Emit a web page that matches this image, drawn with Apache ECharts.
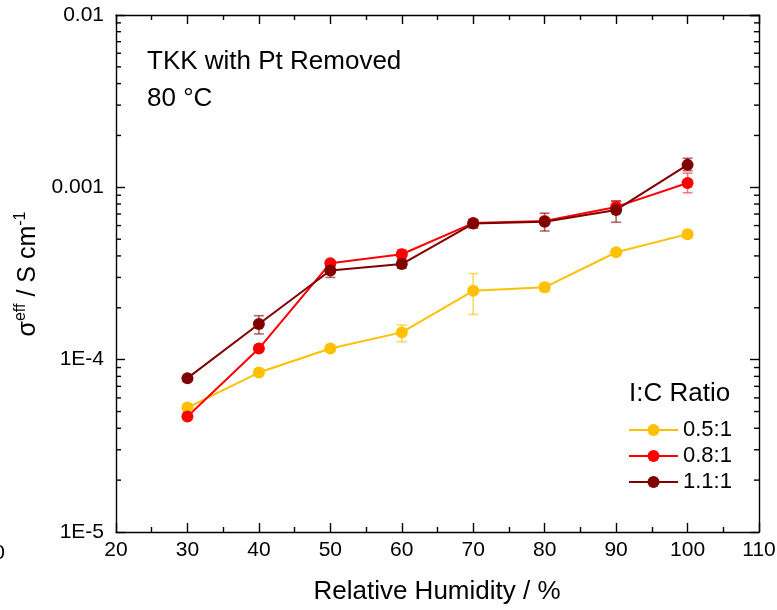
<!DOCTYPE html>
<html><head><meta charset="utf-8">
<script src="https://cdn.jsdelivr.net/npm/echarts@6/dist/echarts.min.js"></script>
<style>html,body{margin:0;padding:0;background:#fff}#c{width:777px;height:610px}</style>
</head><body><div id="c"></div>
<script>
// ---- data ----
const humidity = [30, 40, 50, 60, 70, 80, 90, 100];
const seriesNames = ['0.5:1', '0.8:1', '1.1:1'];
const ratio05 = [5.27e-5, 8.42e-5, 1.16e-4, 1.44e-4, 2.51e-4, 2.63e-4, 4.20e-4, 5.35e-4];
const ratio08 = [4.68e-5, 1.16e-4, 3.63e-4, 4.09e-4, 6.20e-4, 6.38e-4, 7.70e-4, 1.06e-3];
const ratio11 = [7.81e-5, 1.61e-4, 3.29e-4, 3.59e-4, 6.16e-4, 6.32e-4, 7.39e-4, 1.35e-3];
const err05Low  = [null, null, null, 1.27e-4, 1.83e-4, 2.48e-4, 4.05e-4, 5.10e-4];
const err05High = [null, null, null, 1.59e-4, 3.16e-4, 2.78e-4, 4.35e-4, 5.60e-4];
const err08Low  = [null, null, null, 3.85e-4, null, null, 7.10e-4, 9.30e-4];
const err08High = [null, null, null, 4.35e-4, null, null, 8.30e-4, 1.21e-3];
const err11Low  = [null, 1.41e-4, 3.00e-4, 3.40e-4, 5.80e-4, 5.58e-4, 6.27e-4, 1.25e-3];
const err11High = [null, 1.80e-4, 3.50e-4, 3.80e-4, 6.50e-4, 7.08e-4, 8.34e-4, 1.475e-3];
const xTicks = [20, 30, 40, 50, 60, 70, 80, 90, 100, 110];
const yTickValues = [1e-5, 1e-4, 1e-3, 1e-2];
const yTickLabels = ['1E-5', '1E-4', '0.001', '0.01'];
const yMinorValues = [2e-5,3e-5,4e-5,5e-5,6e-5,7e-5,8e-5,9e-5,2e-4,3e-4,4e-4,5e-4,6e-4,7e-4,8e-4,9e-4,2e-3,3e-3,4e-3,5e-3,6e-3,7e-3,8e-3,9e-3];

const colors = ['#FFC000', '#FF0000', '#800000'];
const errColors = ['rgba(255,192,0,0.6)', 'rgba(255,0,0,0.5)', 'rgba(128,0,0,0.6)'];
const FONT = 'Liberation Sans, Arial, sans-serif';

function errData(lo, hi) {
  return humidity.map((h, i) => [h, lo[i], hi[i]]).filter(d => d[1] != null);
}
function errSeries(lo, hi, color) {
  return {
    type: 'custom', z: 1, silent: true,
    encode: { x: 0, y: [1, 2] },
    data: errData(lo, hi),
    renderItem: function (params, api) {
      const x = api.value(0);
      const pl = api.coord([x, api.value(1)]);
      const ph = api.coord([x, api.value(2)]);
      const w = 5;
      const style = { stroke: color, lineWidth: 1.6 };
      return { type: 'group', children: [
        { type: 'line', shape: { x1: pl[0], y1: pl[1], x2: ph[0], y2: ph[1] }, style: style },
        { type: 'line', shape: { x1: pl[0] - w, y1: pl[1], x2: pl[0] + w, y2: pl[1] }, style: style },
        { type: 'line', shape: { x1: ph[0] - w, y1: ph[1], x2: ph[0] + w, y2: ph[1] }, style: style }
      ]};
    }
  };
}
function lineSeries(name, vals, color) {
  return {
    name: name, type: 'line', z: 3,
    data: humidity.map((h, i) => [h, vals[i]]),
    symbol: 'circle', symbolSize: 12,
    lineStyle: { color: color, width: 2 },
    itemStyle: { color: color },
    emphasis: { disabled: true }
  };
}

const axisLine = { show: true, lineStyle: { color: '#000', width: 1.4 } };
const chart = echarts.init(document.getElementById('c'));
chart.setOption({
  animation: false,
  backgroundColor: '#fff',
  grid: { left: 116, right: 18, top: 15, bottom: 78, containLabel: false, outerBoundsMode: 'none' },
  xAxis: [{
    type: 'value', min: 20, max: 110, interval: 10, position: 'bottom',
    axisLine: axisLine,
    axisTick: { show: true, inside: true, length: 9, lineStyle: { color: '#000', width: 1.4 } },
    minorTick: { show: true, splitNumber: 2, length: 5, lineStyle: { color: '#000', width: 1.4 } },
    axisLabel: { color: '#000', fontSize: 21, fontFamily: FONT, margin: 8, showMinLabel: true, showMaxLabel: true,
      formatter: v => String(xTicks[xTicks.indexOf(v)]) },
    splitLine: { show: false }
  }, {
    type: 'value', min: 20, max: 110, interval: 10, position: 'top',
    axisLine: axisLine,
    axisTick: { show: true, inside: true, length: 9, lineStyle: { color: '#000', width: 1.4 } },
    minorTick: { show: true, splitNumber: 2, length: 5, lineStyle: { color: '#000', width: 1.4 } },
    axisLabel: { show: false }, splitLine: { show: false }
  }],
  yAxis: [{
    type: 'log', logBase: 10, min: 1e-5, max: 1e-2, position: 'left',
    axisLine: axisLine,
    axisTick: { show: true, inside: true, length: 9, lineStyle: { color: '#000', width: 1.4 } },
    axisLabel: { color: '#000', fontSize: 21, fontFamily: FONT, margin: 12,
      formatter: v => { const i = yTickValues.findIndex(t => Math.abs(Math.log10(t) - Math.log10(v)) < 1e-6); return i >= 0 ? yTickLabels[i] : ''; } },
    splitLine: { show: false }
  }, {
    type: 'log', logBase: 10, min: 1e-5, max: 1e-2, position: 'right',
    axisLine: axisLine,
    axisTick: { show: true, inside: true, length: 9, lineStyle: { color: '#000', width: 1.4 } },
    axisLabel: { show: false }, splitLine: { show: false }
  }],
  legend: {
    data: seriesNames,
    orient: 'vertical', left: 628, top: 419, padding: 0,
    itemWidth: 49, itemHeight: 15, itemGap: 4,
    textStyle: { color: '#000', fontSize: 22, fontFamily: FONT, lineHeight: 22 },
    selectedMode: false
  },
  series: [
    {
      type: 'custom', silent: true, z: 5,
      encode: { x: 0, y: 1 },
      data: yMinorValues.map(v => [20, v]),
      renderItem: function (params, api) {
        const v = api.value(1);
        const pl = api.coord([20, v]);
        const pr = api.coord([110, v]);
        const style = { stroke: '#000', lineWidth: 1.4 };
        return { type: 'group', children: [
          { type: 'line', shape: { x1: pl[0], y1: pl[1], x2: pl[0] + 5, y2: pl[1] }, style: style },
          { type: 'line', shape: { x1: pr[0], y1: pr[1], x2: pr[0] - 5, y2: pr[1] }, style: style }
        ]};
      }
    },
    errSeries(err05Low, err05High, errColors[0]),
    errSeries(err08Low, err08High, errColors[1]),
    errSeries(err11Low, err11High, errColors[2]),
    lineSeries(seriesNames[0], ratio05, colors[0]),
    lineSeries(seriesNames[1], ratio08, colors[1]),
    lineSeries(seriesNames[2], ratio11, colors[2])
  ],
  graphic: [
    { type: 'text', left: 147, top: 49, style: { text: 'TKK with Pt Removed', fontSize: 26, fontFamily: FONT, fill: '#000' } },
    { type: 'text', left: 147, top: 86, style: { text: '80 °C', fontSize: 26, fontFamily: FONT, fill: '#000' } },
    { type: 'text', left: 629, top: 381, style: { text: 'I:C Ratio', fontSize: 26, fontFamily: FONT, fill: '#000' } },
    { type: 'text', x: 437, y: 592, style: { text: 'Relative Humidity / %', fontSize: 26, fontFamily: FONT, fill: '#000', align: 'center', verticalAlign: 'middle' } },
    { type: 'text', x: 5, y: 553, style: { text: '10', fontSize: 21, fontFamily: FONT, fill: '#000', align: 'right', verticalAlign: 'middle' } },
    { type: 'text', x: 28, y: 274, rotation: Math.PI / 2,
      style: {
        text: '{m|σ}{s|eff}{m| / S cm}{s|-1}',
        align: 'center', verticalAlign: 'middle', fontFamily: FONT, fill: '#000',
        rich: {
          m: { fontSize: 25, fontFamily: FONT, fill: '#000', lineHeight: 30 },
          s: { fontSize: 16, fontFamily: FONT, fill: '#000', padding: [0, 0, 14, 0] }
        }
      }
    }
  ]
});
</script></body></html>
